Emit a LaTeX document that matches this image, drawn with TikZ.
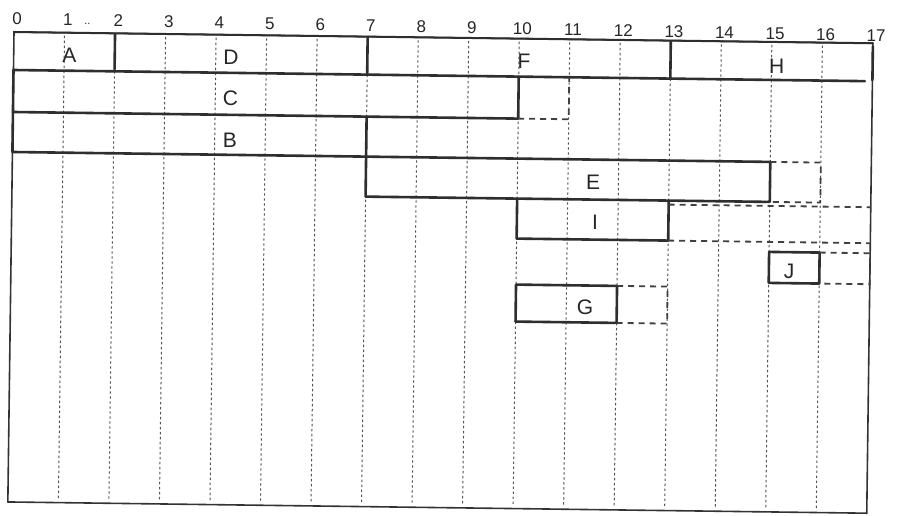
\documentclass[tikz,border=0pt]{standalone}
\usepackage{fontspec}
\setmainfont{Liberation Sans}
\begin{document}
\begin{tikzpicture}[x=1pt,y=-1pt,
  gridline/.style={draw=black!68, line width=1pt, dash pattern=on 2.4pt off 2.6pt},
  framestyle/.style={draw=black!80, line width=1.6pt},
  bar/.style={draw=black!82, line width=2.6pt, line cap=round, line join=round},
  floatline/.style={draw=black!75, line width=1.8pt, dash pattern=on 6pt off 5pt},
  lbl/.style={font=\fontsize{21}{21}\selectfont, text=black!85, inner sep=0pt},
  num/.style={font=\fontsize{17}{17}\selectfont, text=black!85, inner sep=0pt}]
\fill[white] (0,0) rectangle (915,515);
\useasboundingbox (0,0) rectangle (915,515);
\begin{scope}[shift={(14,32)}, rotate=-0.75, x=50.53pt, y=-1pt]
  % dashed time grid
  \foreach \k in {1,...,16} \draw[gridline] (\k,3) -- (\k,468);
  % frame
  \draw[framestyle] (0,0) rectangle (17,470);
  \draw[bar, line width=2pt] (0,0) -- (17,0);
  % scale numbers
  \foreach \k in {0,...,17} \node[num] (n\k) at ({\k+0.06},{-13.5+0.35*\k}) {\k};
  \node[num, font=\fontsize{11}{11}\selectfont] (ndots) at (1.45,-9) {..};
  % row 1: A D F H
  \draw[bar] (0,38) -- (16.85,38);
  \draw[bar] (2,1) -- (2,36);
  \draw[bar] (7,1) -- (7,38);
  \draw[bar] (13,1) -- (13,38);
  \draw[bar] (17,3) -- (17,37);
  % C
  \draw[bar] (0,38) -- (0,80) -- (10,80) -- (10,38);
  \draw[floatline] (10,80) -- (11,80) -- (11,38);
  % B
  \draw[bar] (0,80) -- (0,120) -- (7,120) -- (7,80);
  % E
  \draw[bar] (7,120) rectangle (15,160);
  \draw[floatline] (15,120) -- (16,120) -- (16,160) -- (15,160);
  % I
  \draw[bar] (10,160) -- (10,200) -- (13,200) -- (13,160);
  \draw[floatline] (13,164) -- (17,164);
  \draw[floatline] (13,200) -- (17,200);
  % J
  \draw[bar] (15,210) rectangle (16,241);
  \draw[floatline] (16,210) -- (17,210) -- (17,241) -- (16,241);
  % G
  \draw[bar] (10,246) rectangle (12,283);
  \draw[floatline] (12,246) -- (13,246) -- (13,283) -- (12,283);
  % activity labels
  \node[lbl] (lA) at (1.1,23) {A};
  \node[lbl] (lD) at (4.3,22) {D};
  \node[lbl] (lF) at (10.1,23) {F};
  \node[lbl] (lH) at (15.1,24) {H};
  \node[lbl] (lC) at (4.3,63) {C};
  \node[lbl] (lB) at (4.3,105) {B};
  \node[lbl] (lE) at (11.5,143) {E};
  \node[lbl] (lI) at (11.55,183) {I};
  \node[lbl] (lJ) at (15.4,229) {J};
  \node[lbl] (lG) at (11.37,268) {G};
\end{scope}
\end{tikzpicture}
\end{document}
